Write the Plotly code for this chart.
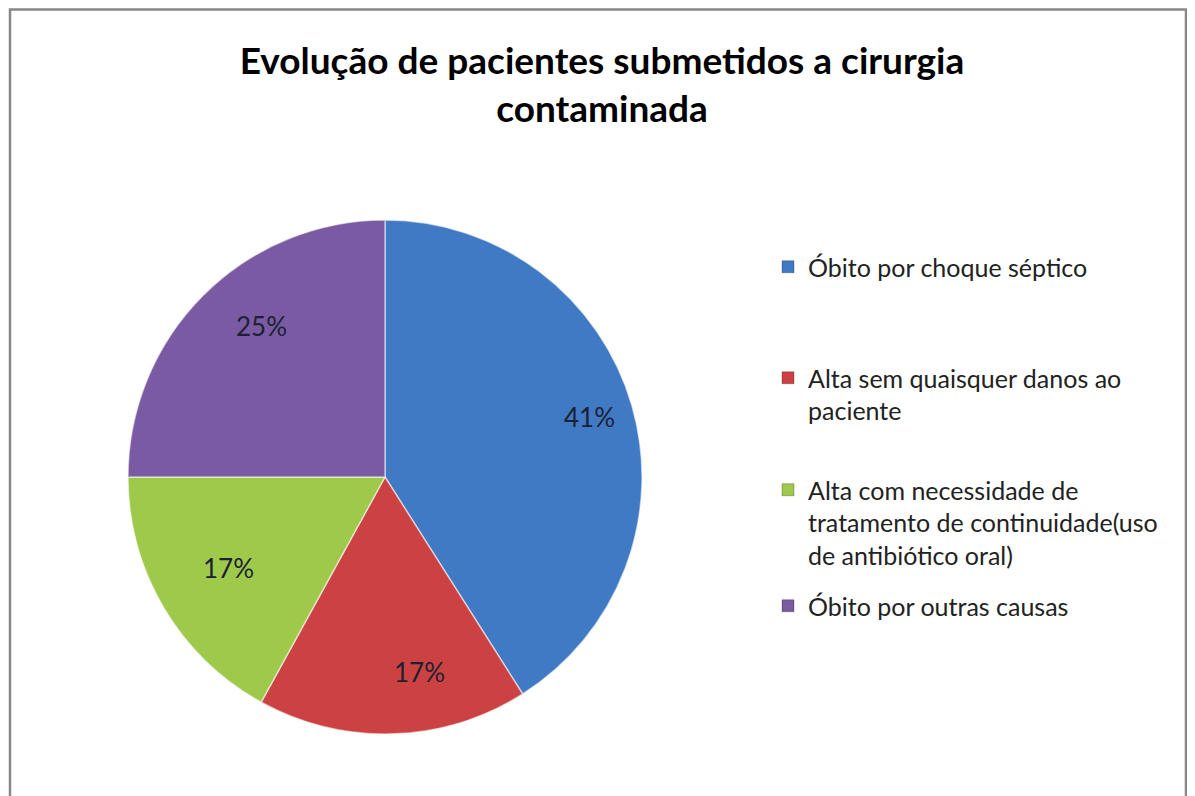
import math
import plotly.graph_objects as go

labels = [
    "Óbito por choque séptico",
    "Alta sem quaisquer danos ao<br>paciente",
    "Alta com necessidade de<br>tratamento de continuidade(uso<br>de antibiótico oral)",
    "Óbito por outras causas",
]
values = [41, 17, 17, 25]
colors = ["#4079C4", "#CC4242", "#9FC94A", "#7A5AA2"]
title_text = "Evolução de pacientes submetidos a cirurgia<br>contaminada"

W, H = 1195, 796
OFF = 8  # page body margin
cx, cy, R = 385 - OFF, 477 - OFF, 257  # pie centre/radius in figure pixels
FONT = "Lato, Carlito, Calibri, sans-serif"

fig = go.Figure()
fig.add_trace(go.Pie(
    labels=labels, values=values, sort=False, direction="clockwise", rotation=0,
    marker=dict(colors=colors, line=dict(color="rgba(255,255,255,0.55)", width=1.5)),
    textinfo="none", hoverinfo="label+percent", showlegend=False,
    domain=dict(x=[(cx - R) / W, (cx + R) / W], y=[(H - cy - R) / H, (H - cy + R) / H]),
))

# percentage labels placed from the data's cumulative angles
total = sum(values)
cum = 0
annotations = []
for v in values:
    mid = (cum + v / 2) / total * 2 * math.pi
    cum += v
    r = 0.83 * R
    px = cx + r * math.sin(mid)
    py = cy - r * math.cos(mid)
    annotations.append(dict(
        x=px / W, y=(H - py) / H, xref="paper", yref="paper",
        text=f"{round(v / total * 100)}%", showarrow=False,
        font=dict(family=FONT, size=26, color="#1b2133"),
    ))

# legend entries: one legend per entry to reproduce Excel's spacing
legend_tops = [236, 347, 459, 575]
legend_names = ["legend", "legend2", "legend3", "legend4"]
for lab, col, lg in zip(labels, colors, legend_names):
    fig.add_trace(go.Scatter(
        x=[None], y=[None], mode="markers", name=lab, legend=lg,
        marker=dict(symbol="square", size=12, color=col,
                    line=dict(color="rgba(0,0,0,0.25)", width=1)),
        showlegend=True, hoverinfo="skip",
    ))

layout_legends = {}
for lg, top in zip(legend_names, legend_tops):
    layout_legends[lg] = dict(
        x=760 / W, y=(H - top) / H, xanchor="left", yanchor="top",
        font=dict(family=FONT, size=25, color="#222222"),
        bgcolor="rgba(0,0,0,0)", valign="top", itemwidth=30,
        tracegroupgap=0, itemclick=False, itemdoubleclick=False,
    )

fig.update_layout(
    width=W, height=H,
    margin=dict(l=0, r=0, t=0, b=0),
    paper_bgcolor="white", plot_bgcolor="white",
    title=dict(text=title_text, x=(602 - OFF) / W, xanchor="center",
               y=1 - 66 / H, yanchor="top", yref="container",
               font=dict(family=FONT, size=37, color="#000000", weight="bold")),
    xaxis=dict(visible=False), yaxis=dict(visible=False),
    annotations=annotations,
    shapes=[dict(type="rect", xref="paper", yref="paper",
                 x0=2 / W, x1=1178 / W, y0=-0.05, y1=(H - 1.5) / H,
                 line=dict(color="#878787", width=2.5), fillcolor="rgba(0,0,0,0)")],
    **layout_legends,
)

fig.write_html("out.html")
